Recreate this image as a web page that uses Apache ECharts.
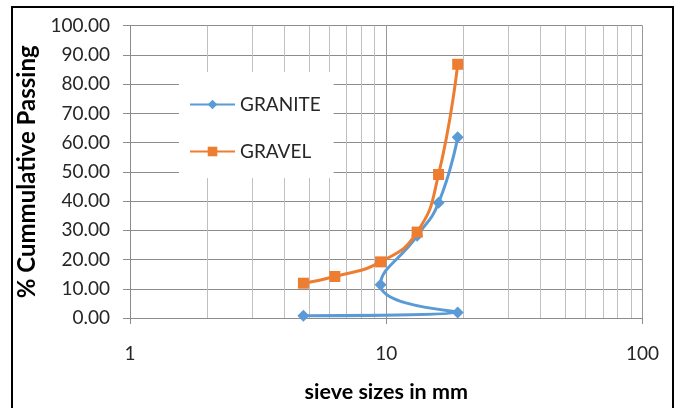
<!DOCTYPE html>
<html>
<head>
<meta charset="utf-8">
<script src="https://cdn.jsdelivr.net/npm/echarts@6/dist/echarts.min.js"></script>
<style>html,body{margin:0;padding:0;background:#fff;}#c{width:680px;height:408px;}</style>
</head>
<body>
<div id="c"></div>
<script>
var graniteSizes = [4.75, 19, 9.5, 13.2, 16, 19];
var graniteValues = [0.8, 1.9, 11.4, 28.1, 39.4, 61.8];
var gravelSizes = [4.75, 6.3, 9.5, 13.2, 16, 19];
var gravelValues = [11.9, 14.2, 19.2, 29.4, 49.1, 86.8];
var xTickLabels = ['1', '10', '100'];
var minorGridValues = [2,3,4,5,6,7,8,9,20,30,40,50,60,70,80,90];

function pairs(xs, ys){ return xs.map(function(x,i){ return [x, ys[i]]; }); }

var font = 'Lato';
var chart = echarts.init(document.getElementById('c'), null, {renderer:'canvas'});
chart.setOption({
  animation: false,
  backgroundColor: '#fff',
  grid: {left: 130, right: 37.5, top: 25.7, bottom: 89, containLabel: false},
  legend: {
    data: ['GRANITE', 'GRAVEL'],
    orient: 'vertical',
    left: 179, top: 72,
    backgroundColor: '#fff',
    padding: [23, 13, 17, 10],
    itemWidth: 45, itemHeight: 12, itemGap: 28,
    textStyle: {fontFamily: font, fontSize: 19, color: '#262626'}
  },
  xAxis: {
    type: 'log', logBase: 10, min: 1, max: 100,
    name: 'sieve sizes in mm', nameLocation: 'middle', nameGap: 63,
    nameTextStyle: {fontFamily: font, fontSize: 21.5, fontWeight: 'bold', color: '#000'},
    axisLine: {show: true, lineStyle: {color: '#8c8c8c', width: 1}},
    axisTick: {show: true, length: 6, lineStyle: {color: '#8c8c8c'}},
    axisLabel: {fontFamily: font, fontSize: 19, color: '#262626', margin: 26,
      formatter: function(v){ var s = String(Math.round(v)); return xTickLabels.indexOf(s) >= 0 ? s : ''; }},
    splitLine: {show: true, lineStyle: {color: '#999', width: 1}},
    minorTick: {show: false}, minorSplitLine: {show: false}
  },
  yAxis: {
    type: 'value', min: 0, max: 100, interval: 10,
    name: '% Cummulative Passing', nameLocation: 'middle', nameGap: 79,
    nameTextStyle: {fontFamily: font, fontSize: 24, fontWeight: 'bold', color: '#000'},
    axisLine: {show: true, lineStyle: {color: '#8c8c8c', width: 1}},
    axisTick: {show: true, length: 7, lineStyle: {color: '#8c8c8c'}},
    axisLabel: {fontFamily: font, fontSize: 19, color: '#262626', margin: 20,
      formatter: function(v){ return v.toFixed(2); }},
    splitLine: {show: true, lineStyle: {color: '#8c8c8c', width: 1}}
  },
  series: [
    {
      name: 'minor', type: 'line', data: [], z: 1, silent: true,
      markLine: {
        silent: true, symbol: 'none', z: 1, animation: false,
        label: {show: false},
        lineStyle: {color: '#c0c0c0', width: 1, type: 'solid'},
        emphasis: {disabled: true},
        data: minorGridValues.map(function(v){ return {xAxis: v}; })
      }
    },
    {
      name: 'GRANITE', type: 'line', z: 3,
      data: pairs(graniteSizes, graniteValues),
      smooth: 0.5,
      symbol: 'diamond', symbolSize: 12,
      itemStyle: {color: '#5B9BD5'},
      lineStyle: {color: '#5B9BD5', width: 3}
    },
    {
      name: 'GRAVEL', type: 'line', z: 4,
      data: pairs(gravelSizes, gravelValues),
      smooth: 0.5,
      symbol: 'rect', symbolSize: 11,
      itemStyle: {color: '#ED7D31'},
      lineStyle: {color: '#ED7D31', width: 3}
    }
  ],
  graphic: [{
    type: 'rect', silent: true, z: 100,
    shape: {x: 12, y: 7, width: 661, height: 420},
    style: {fill: 'none', stroke: '#000', lineWidth: 2}
  }]
});
</script>
</body>
</html>
